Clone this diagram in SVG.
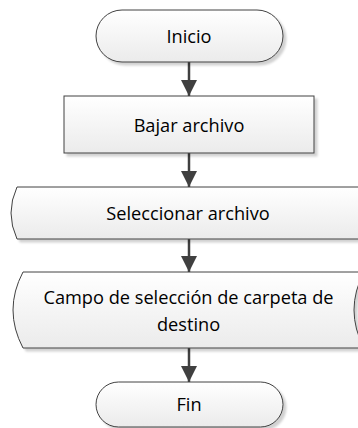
<svg xmlns="http://www.w3.org/2000/svg" width="358" height="428" viewBox="0 0 358 428">
<defs>
<linearGradient id="g" x1="0" y1="0" x2="0" y2="1">
<stop offset="0" stop-color="#ffffff"/>
<stop offset="1" stop-color="#ebebeb"/>
</linearGradient>
<filter id="sh" x="-10%" y="-10%" width="130%" height="140%">
<feDropShadow dx="3" dy="3" stdDeviation="1" flood-color="#000" flood-opacity="0.18"/>
</filter>
<marker id="ah" markerUnits="userSpaceOnUse" markerWidth="18" markerHeight="18" refX="16" refY="8" orient="auto">
<path d="M0,0 L16,8 L0,16 Z" fill="#404040"/>
</marker>
<style>
.n{fill:url(#g);stroke:#404040;stroke-width:1;filter:url(#sh)}
.t{font-family:"Open Sans","Liberation Sans",sans-serif;font-size:18.2px;fill:#000;text-anchor:middle}
.c{stroke:#404040;stroke-width:2.5;fill:none;marker-end:url(#ah)}
</style>
</defs>
<g id="connectors">
<line class="c" x1="189" y1="62" x2="189" y2="96"/>
<line class="c" x1="189" y1="153" x2="189" y2="187"/>
<line class="c" x1="189" y1="239" x2="189" y2="272"/>
<line class="c" x1="189" y1="348" x2="189" y2="382"/>
</g>
<g id="inicio">
<rect class="n" x="96" y="10" width="187" height="52" rx="26" ry="26"/>
<text class="t" x="189" y="43">Inicio</text>
</g>
<g id="bajar">
<rect class="n" x="64" y="96" width="250" height="57"/>
<text class="t" x="189" y="132">Bajar archivo</text>
</g>
<g id="seleccionar">
<path class="n" d="M17,187 H372 Q366,213 372,239 H17 Q5,213 17,187 Z"/>
<text class="t" x="188" y="220">Seleccionar archivo</text>
</g>
<g id="campo">
<path class="n" d="M23,272 H364 Q344,310 364,348 H23 Q3,310 23,272 Z"/>
<text class="t" x="188.5" y="304">Campo de selección de carpeta de</text>
<text class="t" x="188.5" y="331">destino</text>
</g>
<g id="fin">
<rect class="n" x="96" y="382" width="187" height="45" rx="22.5" ry="22.5"/>
<text class="t" x="189" y="411">Fin</text>
</g>
</svg>
